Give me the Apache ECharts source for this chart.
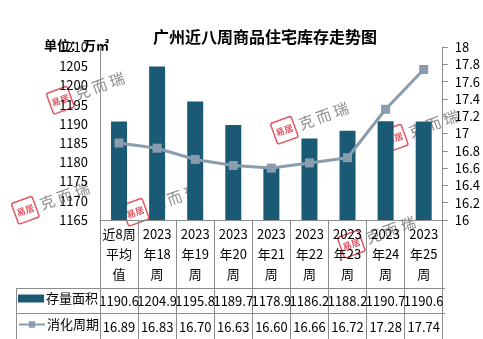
<!DOCTYPE html>
<html><head><meta charset="utf-8">
<script src="https://cdn.jsdelivr.net/npm/echarts@6/dist/echarts.min.js"></script>
<style>html,body{margin:0;padding:0;background:#fff}#c{width:483px;height:339px}</style>
</head><body><div id="c"></div>
<script>
const categories = ['近8周\n平均\n值','2023\n年18\n周','2023\n年19\n周','2023\n年20\n周','2023\n年21\n周','2023\n年22\n周','2023\n年23\n周','2023\n年24\n周','2023\n年25\n周'];
const areaValues = [1190.6,1204.9,1195.8,1189.7,1178.9,1186.2,1188.2,1190.7,1190.6];
const cycleValues = [16.89,16.83,16.70,16.63,16.60,16.66,16.72,17.28,17.74];
const seriesNames = ['存量面积','消化周期'];
const leftAxisRange = [1165,1210,5];
const rightAxisRange = [16,18,0.2];

const FONT = "'Noto Sans CJK SC', sans-serif";
const GRID = {left:100, right:38, top:47, bottom:119};
const lineColor = '#8c8c8c';

function stamp(x,y){
  return {type:'group', x:x, y:y, rotation:Math.PI*20/180, children:[
    {type:'rect', shape:{x:0,y:-11,width:22,height:22,r:2}, style:{fill:'rgba(255,255,255,0)',stroke:'rgba(220,30,50,0.75)',lineWidth:1.5}},
    {type:'text', style:{x:11,y:0,text:'易居',fill:'rgba(220,30,50,0.75)',font:"bold 9px "+FONT,align:'center',verticalAlign:'middle'}},
    {type:'text', style:{x:27,y:0,text:'克 而 瑞',fill:'rgba(90,90,90,0.7)',font:"15px "+FONT,verticalAlign:'middle'}}
  ]};
}
function legendAt(name, top, icon){
  const item = icon ? {name:name, icon:icon} : {name:name};
  return {orient:'horizontal', left:18, top:top, itemWidth:26, itemHeight:8, padding:0,
    textStyle:{fontSize:13,color:'#000',fontFamily:FONT,padding:[0,0,0,-3]}, data:[item]};
}

const chart = echarts.init(document.getElementById('c'));
chart.setOption({
  animation:false,
  textStyle:{fontFamily:FONT},
  title:[
    {text:'广州近八周商品住宅库存走势图', left:148, top:24, textStyle:{fontSize:16, fontWeight:'bold', color:'#000', fontFamily:FONT}},
    {text:'单位：万㎡', left:39, top:34, textStyle:{fontSize:13, fontWeight:'bold', color:'#000', fontFamily:FONT}}
  ],
  legend:[legendAt(seriesNames[0], 292, 'rect'), legendAt(seriesNames[1], 318)],
  grid:GRID,
  xAxis:[
    {type:'category', data:categories, position:'bottom',
     axisLine:{lineStyle:{color:lineColor,width:1}},
     axisTick:{show:true, length:119, interval:0, lineStyle:{color:lineColor}},
     axisLabel:{interval:0, margin:4, lineHeight:20, fontSize:13, color:'#000', fontFamily:FONT}},
    {type:'category', data:areaValues.map(v=>v.toFixed(1)), position:'bottom',
     axisLine:{show:false}, axisTick:{show:false},
     axisLabel:{interval:0, margin:73, lineHeight:16, fontSize:13, color:'#000', fontFamily:FONT}},
    {type:'category', data:cycleValues.map(v=>v.toFixed(2)), position:'bottom',
     axisLine:{show:false}, axisTick:{show:false},
     axisLabel:{interval:0, margin:99, lineHeight:16, fontSize:13, color:'#000', fontFamily:FONT}}
  ],
  yAxis:[
    {type:'value', min:leftAxisRange[0], max:leftAxisRange[1], interval:leftAxisRange[2],
     axisLine:{show:true, lineStyle:{color:lineColor}}, axisTick:{show:false}, splitLine:{show:false},
     axisLabel:{margin:12, fontSize:13, color:'#000', fontFamily:FONT, formatter:v=>String(v)}},
    {type:'value', min:rightAxisRange[0], max:rightAxisRange[1], interval:rightAxisRange[2], position:'right',
     axisLine:{show:true, lineStyle:{color:lineColor}}, axisTick:{show:true, length:5, lineStyle:{color:lineColor}}, splitLine:{show:false},
     axisLabel:{margin:12, fontSize:13, color:'#000', fontFamily:FONT, formatter:v=>String(Math.round(v*10)/10)}}
  ],
  series:[
    {name:seriesNames[0], type:'bar', data:areaValues, xAxisIndex:0, yAxisIndex:0, barWidth:16,
     itemStyle:{color:'#1B5A74'}},
    {name:seriesNames[1], type:'line', data:cycleValues, xAxisIndex:0, yAxisIndex:1,
     symbol:'rect', symbolSize:9, lineStyle:{color:'#8A9DAE', width:3}, itemStyle:{color:'#8A9DAE'}}
  ],
  graphic:[
    {type:'line', shape:{x1:16,y1:288.5,x2:445,y2:288.5}, style:{stroke:lineColor,lineWidth:1}, z:10},
    {type:'line', shape:{x1:16,y1:313.5,x2:445,y2:313.5}, style:{stroke:lineColor,lineWidth:1}, z:10},
    {type:'line', shape:{x1:16.5,y1:288,x2:16.5,y2:339}, style:{stroke:lineColor,lineWidth:1}, z:10},
    stamp(50,104), stamp(15,214), stamp(125,216), stamp(274,134), stamp(384,142), stamp(341,248)
  ]
});
</script></body></html>
